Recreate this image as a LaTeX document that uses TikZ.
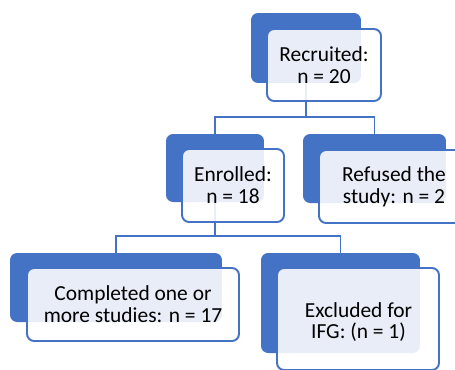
\documentclass[tikz,border=0pt]{standalone}
\usepackage{fontspec}
\setmainfont{Carlito}
\definecolor{smartblue}{HTML}{4472C4}
\tikzset{
  backbox/.style={fill=smartblue,rounded corners=4pt,inner sep=0pt},
  textbox/.style={draw=smartblue,line width=1.1pt,fill=white,fill opacity=0.88,text opacity=1,
    rounded corners=4pt,inner sep=0pt,align=center,font=\fontsize{12.2}{12.4}\selectfont},
  conn/.style={draw=smartblue,line width=1.1pt}
}
\begin{document}
\begin{tikzpicture}[x=0.02cm,y=-0.02cm]
  \useasboundingbox (0,0) rectangle (455,369);
  \begin{scope}
    \clip (0,0) rectangle (455,369);
    % back boxes
    \node[backbox,minimum width=2.2cm,minimum height=1.4cm] (recB) at (306,48) {};
    \node[backbox,minimum width=1.96cm,minimum height=1.36cm] (enrB) at (215,168) {};
    \node[backbox,minimum width=2.86cm,minimum height=1.38cm] (refB) at (374.5,168.5) {};
    \node[backbox,minimum width=4.24cm,minimum height=1.38cm] (comB) at (116,287.5) {};
    \node[backbox,minimum width=3.18cm,minimum height=2cm] (excB) at (340.5,303) {};
    % connectors
    \draw[conn] (recB.south) -- ++(0,34) -| (enrB.north);
    \draw[conn] (recB.south) -- ++(0,34) -| (refB.north);
    \draw[conn] (enrB.south) -- ++(0,34) -| (comB.north);
    \draw[conn] (enrB.south) -- ++(0,34) -| (excB.north);
    % front boxes
    \node[textbox,minimum width=2.28cm,minimum height=1.44cm] (rec) at (324,65) {Recruited:\\n = 20};
    \node[textbox,minimum width=2.04cm,minimum height=1.46cm] (enr) at (233,185.5) {Enrolled:\\n = 18};
    \node[textbox,minimum width=3cm,minimum height=1.46cm] (ref) at (394,186.5) {Refused the\\study: n = 2};
    \node[textbox,minimum width=4.24cm,minimum height=1.46cm] (com) at (133,304.5) {Completed one or\\more studies: n = 17};
    \node[textbox,minimum width=3.24cm,minimum height=2.04cm] (exc) at (358,319) {};
    \node[font=\fontsize{12.2}{12.4}\selectfont,align=center] (excT) at (358.5,322) {Excluded for\\IFG: (n = 1)};
  \end{scope}
\end{tikzpicture}
\end{document}
